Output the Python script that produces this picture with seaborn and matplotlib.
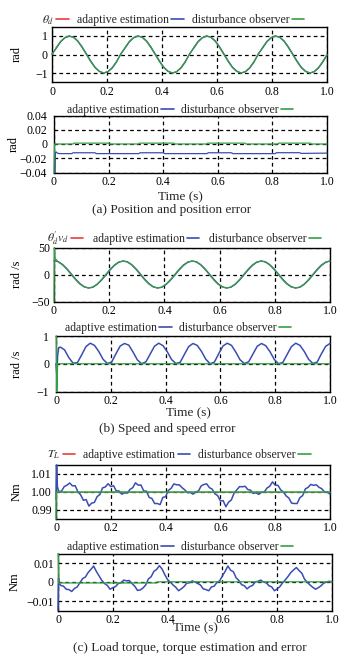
import numpy as np
import matplotlib
matplotlib.use("Agg")
import matplotlib.pyplot as plt
from matplotlib.lines import Line2D
import seaborn as sns

# ---------------- data ----------------
XTICKS = [0, 0.2, 0.4, 0.6, 0.8, 1.0]
XTICK_LABELS = ["0", "0.2", "0.4", "0.6", "0.8", "1.0"]

t64 = np.linspace(0, 1, 65)  # sample grid, step 1/64 s

# (a) position
pos_ref = [0, 0.38, 0.71, 0.92, 1.0, 0.92, 0.71, 0.38, 0, -0.38, -0.71, -0.92, -1.0, -0.92, -0.71, -0.38,
           0, 0.38, 0.71, 0.92, 1.0, 0.92, 0.71, 0.38, 0, -0.38, -0.71, -0.92, -1.0, -0.92, -0.71, -0.38,
           0, 0.38, 0.71, 0.92, 1.0, 0.92, 0.71, 0.38, 0, -0.38, -0.71, -0.92, -1.0, -0.92, -0.71, -0.38,
           0, 0.38, 0.71, 0.92, 1.0, 0.92, 0.71, 0.38, 0, -0.38, -0.71, -0.92, -1.0, -0.92, -0.71, -0.38, 0]
pos_adapt = [0.02, 0.34, 0.68, 0.90, 1.0, 0.94, 0.74, 0.42, 0.04, -0.34, -0.68, -0.90, -1.0, -0.94, -0.74, -0.42,
             0.04, 0.34, 0.68, 0.90, 1.0, 0.94, 0.74, 0.42, 0.04, -0.34, -0.68, -0.90, -1.0, -0.94, -0.74, -0.42,
             0.04, 0.34, 0.68, 0.90, 1.0, 0.94, 0.74, 0.42, 0.04, -0.34, -0.68, -0.90, -1.0, -0.94, -0.74, -0.42,
             0.04, 0.34, 0.68, 0.90, 1.0, 0.94, 0.74, 0.42, 0.04, -0.34, -0.68, -0.90, -1.0, -0.94, -0.74, -0.42, -0.04]
pos_dob = pos_ref

t_perr_a = [0, 0.004, 0.005, 0.008, 0.012, 0.02, 0.065, 0.07, 0.15, 0.155, 0.31, 0.315, 0.40, 0.405,
            0.56, 0.565, 0.65, 0.655, 0.81, 0.815, 0.90, 0.905, 1.0]
perr_adapt = [-0.04, -0.04, -0.012, -0.0112, -0.0128, -0.0135, -0.0135, -0.0123, -0.0123, -0.0135,
              -0.0135, -0.0123, -0.0123, -0.0135, -0.0135, -0.0123, -0.0123, -0.0135, -0.0135, -0.0122,
              -0.0122, -0.0132, -0.0128]
t_perr_d = [0, 0.002, 0.07, 0.072, 0.20, 0.202, 0.31, 0.312, 0.44, 0.442, 0.56, 0.562, 0.70, 0.702,
            0.82, 0.822, 0.94, 0.942, 1.0]
perr_dob = [-0.04, 0.0, 0.0, 0.0012, 0.0012, 0.0, 0.0, 0.0012, 0.0012, 0.0, 0.0, 0.0012, 0.0012, 0.0,
            0.0, 0.0012, 0.0012, 0.0, 0.0]

# (b) speed
spd_ref = [25, 23.1, 17.7, 9.6, 0, -9.6, -17.7, -23.1, -25, -23.1, -17.7, -9.6, 0, 9.6, 17.7, 23.1,
           25, 23.1, 17.7, 9.6, 0, -9.6, -17.7, -23.1, -25, -23.1, -17.7, -9.6, 0, 9.6, 17.7, 23.1,
           25, 23.1, 17.7, 9.6, 0, -9.6, -17.7, -23.1, -25, -23.1, -17.7, -9.6, 0, 9.6, 17.7, 23.1,
           25, 23.1, 17.7, 9.6, 0, -9.6, -17.7, -23.1, -25, -23.1, -17.7, -9.6, 0, 9.6, 17.7, 23.1, 25]
spd_adapt = [26, 23.8, 18.6, 10.8, 1.4, -8.2, -16.6, -22.4, -25, -23.8, -18.6, -10.8, -1.4, 8.2, 16.6, 22.4,
             25, 23.8, 18.6, 10.8, 1.4, -8.2, -16.6, -22.4, -25, -23.8, -18.6, -10.8, -1.4, 8.2, 16.6, 22.4,
             25, 23.8, 18.6, 10.8, 1.4, -8.2, -16.6, -22.4, -25, -23.8, -18.6, -10.8, -1.4, 8.2, 16.6, 22.4,
             25, 23.8, 18.6, 10.8, 1.4, -8.2, -16.6, -22.4, -25, -23.8, -18.6, -10.8, -1.4, 8.2, 16.6, 22.4, 25]
t_spd_start = [0, 0.0015, 0.004]
spd_dob_start = [-50, 50, 30]

t_serr_start = [0, 0.003, 0.006, 0.01]
serr_adapt_start = [0, -0.4, 0.3, 0.58]
serr_adapt = [0.60, 0.50, 0.22, 0.02, 0.04, 0.32, 0.62, 0.74, 0.66, 0.44, 0.16, 0.01, 0.06, 0.36, 0.64, 0.73,
              0.67, 0.42, 0.14, 0.0, 0.07, 0.35, 0.63, 0.74, 0.65, 0.43, 0.15, 0.01, 0.05, 0.34, 0.62, 0.73,
              0.66, 0.44, 0.16, 0.0, 0.06, 0.36, 0.64, 0.74, 0.66, 0.42, 0.14, 0.01, 0.07, 0.35, 0.63, 0.73,
              0.65, 0.43, 0.15, 0.0, 0.05, 0.34, 0.62, 0.74, 0.66, 0.44, 0.16, 0.01, 0.06, 0.36, 0.63, 0.73]
t_serr_d = [0, 0.001, 0.003, 0.006, 1.0]
serr_dob = [1.0, 1.0, -1.0, 0.0, 0.0]

# (c) torque
t_err_start = [0, 0.002, 0.005]
trq_adapt_start = [0.996, 1.015, 1.003]
trq_adapt = [1.0003, 1.0004, 1.0030, 1.0038, 1.0050, 1.0034, 1.0035, 1.0001, 0.9984, 0.9954,
             0.9958, 0.9922, 0.9938, 0.9942, 0.9974, 0.9986, 1.0023, 1.0028, 1.0046, 1.0030,
             1.0035, 1.0006, 1.0006, 0.9988, 0.9995, 0.9994, 1.0014, 1.0024, 1.0051, 1.0038,
             1.0039, 1.0006, 1.0005, 0.9970, 0.9964, 0.9936, 0.9936, 0.9930, 0.9970, 0.9974,
             1.0009, 1.0020, 1.0045, 1.0040, 1.0040, 1.0024, 1.0012, 0.9996, 0.9998, 0.9988,
             1.0000, 1.0006, 1.0034, 1.0042, 1.0045, 1.0024, 1.0016, 0.9990, 0.9980, 0.9950,
             0.9952, 0.9918, 0.9944, 0.9956, 0.9994, 1.0012, 1.0030, 1.0029, 1.0032, 1.0014,
             1.0010, 0.9992, 0.9996, 0.9987, 0.9998, 1.0000, 1.0022, 1.0032, 1.0056, 1.0038,
             1.0037, 1.0012, 1.0000, 0.9978, 0.9966, 0.9938, 0.9936, 0.9936, 0.9968, 0.9980,
             1.0017, 1.0026, 1.0042, 1.0037, 1.0040, 1.0026, 1.0018, 1.0000, 1.0000, 0.9988]
t_trq_d = [0, 0.001, 1.0]
trq_dob = [0.985, 1.0, 1.0]
t_trq_ref = [0, 1.0]
trq_ref = [1.0, 1.0]

terr_adapt_start = [-0.015, 0.002, -0.001]
terr_adapt = [-0.0018, -0.0022, -0.0038, -0.0040, -0.0050, -0.0034, -0.0026, -0.0004, 0.0018, 0.0026,
              0.0050, 0.0066, 0.0084, 0.0056, 0.0032, 0.0008, -0.0008, -0.0018, -0.0038, -0.0030,
              -0.0024, -0.0008, -0.0004, 0.0010, 0.0006, 0.0008, -0.0008, -0.0022, -0.0044, -0.0042,
              -0.0032, -0.0016, 0.0016, 0.0028, 0.0056, 0.0066, 0.0086, 0.0068, 0.0038, 0.0012,
              0.0000, -0.0016, -0.0028, -0.0046, -0.0036, -0.0024, -0.0006, -0.0004, 0.0006, 0.0000,
              -0.0008, -0.0016, -0.0036, -0.0040, -0.0046, -0.0026, -0.0022, -0.0002, 0.0006, 0.0032,
              0.0056, 0.0084, 0.0062, 0.0054, 0.0022, 0.0008, -0.0014, -0.0020, -0.0036, -0.0024,
              -0.0018, 0.0000, 0.0004, 0.0010, 0.0000, -0.0004, -0.0020, -0.0026, -0.0046, -0.0036,
              -0.0024, -0.0004, 0.0012, 0.0030, 0.0050, 0.0064, 0.0076, 0.0060, 0.0046, 0.0014,
              -0.0002, -0.0016, -0.0028, -0.0038, -0.0030, -0.0020, -0.0006, 0.0000, 0.0004, 0.0000]
t_terr_d = [0, 0.001, 0.003, 0.36, 0.362, 1.0]
terr_dob = [0.015, 0.015, -0.0005, -0.0005, 0.0001, 0.0001]

# ---------------- style ----------------
RED = "#e8403a"
BLUE = "#3a4db3"
GREEN = "#35a043"
FS = 8.5

sns.set_theme(style="white")
plt.rcParams["font.family"] = ["Liberation Serif", "DejaVu Serif"]
plt.rcParams["mathtext.fontset"] = "stix"
plt.rcParams["axes.unicode_minus"] = True

W, H = 357, 657
fig = plt.figure(figsize=(W / 100, H / 100), dpi=100)
fig.patch.set_facecolor("white")

t_err = np.concatenate([t_err_start, np.linspace(0.01, 1.0, 100)])


def add_ax(l, r, t, b):
    return fig.add_axes([l / W, 1 - b / H, (r - l) / W, (b - t) / H])


def style(ax, l, r, ylim, yticks, ylabels, ylab, ylab_px=23, ypad=3):
    ax.set_xlim(0, 1)
    ax.set_ylim(*ylim)
    ax.set_xticks(XTICKS)
    ax.set_xticklabels(XTICK_LABELS)
    ax.set_yticks(yticks)
    ax.set_yticklabels(ylabels)
    ax.tick_params(length=0, labelsize=FS, colors="black")
    ax.tick_params(axis="x", pad=2.5)
    ax.tick_params(axis="y", pad=ypad)
    ax.grid(True, color="black", linestyle=(0, (3, 2.5)), linewidth=0.9)
    ax.set_axisbelow(True)
    for s in ax.spines.values():
        s.set_visible(True)
        s.set_color("black")
        s.set_linewidth(1.0)
    ax.set_xlabel("")
    ax.set_ylabel(ylab, fontsize=9, color="black")
    ax.yaxis.set_label_coords((ylab_px - l) / (r - l), 0.5)


def line(ax, x, y, c, lw=0.9):
    sns.lineplot(x=list(x), y=list(y), ax=ax, color=c, linewidth=lw,
                 estimator=None, sort=False, legend=False, clip_on=False, zorder=3)


def legend(ax, labels, colors, cx, cy, colsp=0.7):
    handles = [Line2D([], [], color=c, lw=1.2) for c in colors]
    ax.legend(handles, labels, loc="center", bbox_to_anchor=(cx / W, 1 - cy / H),
              bbox_transform=fig.transFigure, ncol=len(labels), markerfirst=False,
              frameon=False, fontsize=FS, handlelength=1.05, handletextpad=0.2,
              columnspacing=colsp, borderpad=0, borderaxespad=0)


LAB_A = "adaptive estimation"
LAB_D = "disturbance observer"

# panel 1
ax1 = add_ax(52, 327, 26.75, 82.25)
line(ax1, t64, pos_ref, RED, lw=0.5)
line(ax1, t64, pos_adapt, BLUE)
line(ax1, t64, pos_dob, GREEN)
style(ax1, 52, 327, (-1.5, 1.5), [-1, 0, 1], ["\u22121", "0", "1"], "rad")
legend(ax1, [r"$\theta_d$", LAB_A, LAB_D], [RED, BLUE, GREEN], 173, 20, colsp=0.7)

# panel 2
ax2 = add_ax(54, 327, 115.5, 172.5)
line(ax2, t_perr_a, perr_adapt, BLUE)
line(ax2, t_perr_d, perr_dob, GREEN)
style(ax2, 54, 327, (-0.04, 0.04), [-0.04, -0.02, 0, 0.02, 0.04],
      ["\u22120.04", "\u22120.02", "0", "0.02", "0.04"], "rad", ylab_px=20, ypad=5)
legend(ax2, [LAB_A, LAB_D], [BLUE, GREEN], 180, 110, colsp=0.6)
fig.text(180 / W, 1 - 197 / H, "Time (s)", ha="center", va="center", fontsize=9.5)
fig.text(172 / W, 1 - 210 / H, "(a) Position and position error", ha="center", va="center", fontsize=9.5)

# panel 3
ax3 = add_ax(54, 330, 247.5, 301.5)
line(ax3, t64, spd_ref, RED, lw=0.5)
line(ax3, t64, spd_adapt, BLUE)
line(ax3, np.concatenate([t_spd_start, t64[1:]]), spd_dob_start + spd_ref[1:], GREEN)
style(ax3, 54, 330, (-50, 50), [-50, 0, 50], ["\u221250", "0", "50"], "rad /s")
legend(ax3, [r"$\theta^{\prime}_{d}v_{d}$", LAB_A, LAB_D], [RED, BLUE, GREEN], 184, 238.5, colsp=0.8)

# panel 4
ax4 = add_ax(56, 330, 336, 391.5)
line(ax4, np.concatenate([t_serr_start, t64[1:]]), serr_adapt_start + serr_adapt, BLUE, lw=1.1)
line(ax4, t_serr_d, serr_dob, GREEN)
style(ax4, 56, 330, (-1, 1), [-1, 0, 1], ["\u22121", "0", "1"], "rad /s", ypad=5)
legend(ax4, [LAB_A, LAB_D], [BLUE, GREEN], 178, 328, colsp=0.6)
fig.text(188 / W, 1 - 413 / H, "Time (s)", ha="center", va="center", fontsize=9.5)
fig.text(167 / W, 1 - 429 / H, "(b) Speed and speed error", ha="center", va="center", fontsize=9.5)

# panel 5
ax5 = add_ax(56, 330, 465, 519)
line(ax5, t_trq_ref, trq_ref, RED, lw=0.5)
line(ax5, t_err, trq_adapt_start + trq_adapt, BLUE, lw=1.1)
line(ax5, t_trq_d, trq_dob, GREEN, lw=1.1)
style(ax5, 56, 330, (0.985, 1.015), [0.99, 1.00, 1.01], ["0.99", "1.00", "1.01"], "Nm")
legend(ax5, [r"$T_L$", LAB_A, LAB_D], [RED, BLUE, GREEN], 179, 455, colsp=0.7)

# panel 6
ax6 = add_ax(58, 332, 553.5, 610.5)
line(ax6, t_err, terr_adapt_start + terr_adapt, BLUE, lw=1.1)
line(ax6, t_terr_d, terr_dob, GREEN)
style(ax6, 58, 332, (-0.015, 0.015), [-0.01, 0, 0.01], ["\u22120.01", "0", "0.01"], "Nm", ylab_px=21)
legend(ax6, [LAB_A, LAB_D], [BLUE, GREEN], 180, 547, colsp=0.6)
fig.text(195 / W, 1 - 628 / H, "Time (s)", ha="center", va="center", fontsize=9.5)
fig.text(190 / W, 1 - 648 / H, "(c) Load torque, torque estimation and error", ha="center", va="center", fontsize=9.5)

fig.savefig("out.png", dpi=100, facecolor="white")
